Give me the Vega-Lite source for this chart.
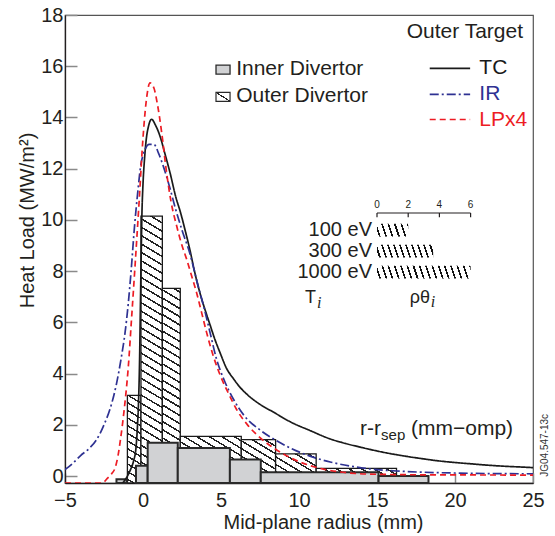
{
"$schema":"https://vega.github.io/schema/vega-lite/v6.json",
"width":468,"height":468,
"autosize":{"type":"none"},
"padding":{"left":65,"top":15,"right":22,"bottom":53},
"background":"white",
"config":{
 "view":{"stroke":"#555","strokeWidth":1.2},
 "font":"Liberation Sans",
 "text":{"font":"Liberation Sans","color":"#231f20"},
 "axis":{"labelFont":"Liberation Sans","labelFontSize":20,"labelColor":"#231f20","titleFont":"Liberation Sans","titleFontSize":20,"titleFontWeight":"normal","titleColor":"#231f20","domainColor":"#231f20","domainWidth":1.3,"tickColor":"#8a8a8a","tickWidth":1.5,"grid":false,"labelFlush":false,"labelOverlap":false}
},
"datasets":{
 "outer":[
  {"id":1,"x":-1.0,"x2":-0.13,"y":3.15},
  {"id":2,"x":-0.13,"x2":1.24,"y":10.15},
  {"id":3,"x":1.24,"x2":2.39,"y":7.33},
  {"id":4,"x":2.39,"x2":6.3,"y":1.55},
  {"id":5,"x":6.3,"x2":8.5,"y":1.42},
  {"id":6,"x":8.5,"x2":11.1,"y":0.87},
  {"id":7,"x":11.1,"x2":16.25,"y":0.3}
 ],
 "inner":[
  {"x":-1.7,"x2":-1.05,"y":-0.12},
  {"x":-0.45,"x2":0.3,"y":0.4},
  {"x":0.3,"x2":2.23,"y":1.3},
  {"x":2.23,"x2":5.57,"y":1.1},
  {"x":5.57,"x2":7.55,"y":0.65},
  {"x":7.55,"x2":15.1,"y":0.15},
  {"x":15.1,"x2":18.3,"y":0.0}
 ],
 "curves":[
  {"series":"TC","x":-1.3,"y":-0.27},{"series":"TC","x":-1.0,"y":0.0},{"series":"TC","x":-0.8,"y":0.25},{"series":"TC","x":-0.6,"y":0.6},{"series":"TC","x":-0.45,"y":1.1},{"series":"TC","x":-0.35,"y":2.0},{"series":"TC","x":-0.28,"y":3.0},{"series":"TC","x":-0.22,"y":4.5},{"series":"TC","x":-0.17,"y":6.5},{"series":"TC","x":-0.12,"y":8.5},{"series":"TC","x":-0.07,"y":10.2},{"series":"TC","x":0.0,"y":11.4},{"series":"TC","x":0.1,"y":12.4},{"series":"TC","x":0.2,"y":13.1},{"series":"TC","x":0.35,"y":13.65},{"series":"TC","x":0.55,"y":13.93},{"series":"TC","x":0.8,"y":13.7},{"series":"TC","x":1.1,"y":13.25},{"series":"TC","x":1.4,"y":12.6},{"series":"TC","x":1.75,"y":11.8},{"series":"TC","x":2.1,"y":10.9},{"series":"TC","x":2.4,"y":10.3},{"series":"TC","x":2.7,"y":9.6},{"series":"TC","x":3.0,"y":8.85},{"series":"TC","x":3.3,"y":8.0},{"series":"TC","x":3.65,"y":7.15},{"series":"TC","x":4.0,"y":6.45},{"series":"TC","x":4.3,"y":5.9},{"series":"TC","x":4.6,"y":5.35},{"series":"TC","x":4.95,"y":4.8},{"series":"TC","x":5.36,"y":4.2},{"series":"TC","x":5.8,"y":3.8},{"series":"TC","x":6.2,"y":3.48},{"series":"TC","x":6.65,"y":3.2},{"series":"TC","x":7.5,"y":2.8},{"series":"TC","x":8.35,"y":2.5},{"series":"TC","x":9.5,"y":2.1},{"series":"TC","x":10.7,"y":1.78},{"series":"TC","x":12,"y":1.45},{"series":"TC","x":13,"y":1.27},{"series":"TC","x":14,"y":1.12},{"series":"TC","x":15,"y":0.98},{"series":"TC","x":16,"y":0.86},{"series":"TC","x":17,"y":0.76},{"series":"TC","x":18,"y":0.67},{"series":"TC","x":19,"y":0.59},{"series":"TC","x":20,"y":0.53},{"series":"TC","x":21,"y":0.48},{"series":"TC","x":22,"y":0.43},{"series":"TC","x":23,"y":0.39},{"series":"TC","x":24,"y":0.36},{"series":"TC","x":25,"y":0.33},
  {"series":"IR","x":-5,"y":0.25},{"series":"IR","x":-4.5,"y":0.5},{"series":"IR","x":-4,"y":0.8},{"series":"IR","x":-3.5,"y":1.05},{"series":"IR","x":-3,"y":1.4},{"series":"IR","x":-2.5,"y":2.0},{"series":"IR","x":-2.0,"y":2.85},{"series":"IR","x":-1.7,"y":3.6},{"series":"IR","x":-1.4,"y":4.6},{"series":"IR","x":-1.15,"y":5.6},{"series":"IR","x":-0.95,"y":6.7},{"series":"IR","x":-0.75,"y":8.1},{"series":"IR","x":-0.55,"y":9.7},{"series":"IR","x":-0.35,"y":11.0},{"series":"IR","x":-0.15,"y":12.1},{"series":"IR","x":0.1,"y":12.7},{"series":"IR","x":0.4,"y":12.95},{"series":"IR","x":0.7,"y":12.95},{"series":"IR","x":1.0,"y":12.6},{"series":"IR","x":1.3,"y":12.1},{"series":"IR","x":1.7,"y":11.3},{"series":"IR","x":2.1,"y":10.4},{"series":"IR","x":2.5,"y":9.6},{"series":"IR","x":3.0,"y":8.7},{"series":"IR","x":3.5,"y":7.5},{"series":"IR","x":3.9,"y":6.6},{"series":"IR","x":4.3,"y":5.6},{"series":"IR","x":4.7,"y":4.6},{"series":"IR","x":5.2,"y":3.75},{"series":"IR","x":5.8,"y":3.0},{"series":"IR","x":6.5,"y":2.35},{"series":"IR","x":7.5,"y":1.8},{"series":"IR","x":8.5,"y":1.4},{"series":"IR","x":9.5,"y":1.08},{"series":"IR","x":10.7,"y":0.78},{"series":"IR","x":12,"y":0.55},{"series":"IR","x":13.6,"y":0.36},{"series":"IR","x":15,"y":0.25},{"series":"IR","x":16.5,"y":0.19},{"series":"IR","x":18,"y":0.15},{"series":"IR","x":20,"y":0.12},{"series":"IR","x":22,"y":0.1},{"series":"IR","x":25,"y":0.09},
  {"series":"LPx4","x":-5,"y":-0.27},{"series":"LPx4","x":-2.6,"y":-0.27},{"series":"LPx4","x":-2.3,"y":-0.1},{"series":"LPx4","x":-2.0,"y":0.1},{"series":"LPx4","x":-1.8,"y":0.3},{"series":"LPx4","x":-1.6,"y":0.8},{"series":"LPx4","x":-1.45,"y":1.4},{"series":"LPx4","x":-1.3,"y":2.1},{"series":"LPx4","x":-1.1,"y":3.2},{"series":"LPx4","x":-0.95,"y":4.2},{"series":"LPx4","x":-0.75,"y":6.0},{"series":"LPx4","x":-0.5,"y":8.3},{"series":"LPx4","x":-0.25,"y":10.7},{"series":"LPx4","x":0.0,"y":13.2},{"series":"LPx4","x":0.2,"y":14.6},{"series":"LPx4","x":0.45,"y":15.35},{"series":"LPx4","x":0.7,"y":15.15},{"series":"LPx4","x":0.9,"y":14.6},{"series":"LPx4","x":1.2,"y":13.4},{"series":"LPx4","x":1.5,"y":11.9},{"series":"LPx4","x":1.8,"y":10.7},{"series":"LPx4","x":2.16,"y":9.76},{"series":"LPx4","x":2.5,"y":9.0},{"series":"LPx4","x":2.8,"y":8.46},{"series":"LPx4","x":3.1,"y":7.85},{"series":"LPx4","x":3.44,"y":7.15},{"series":"LPx4","x":3.75,"y":6.4},{"series":"LPx4","x":4.08,"y":5.6},{"series":"LPx4","x":4.5,"y":4.7},{"series":"LPx4","x":4.94,"y":3.95},{"series":"LPx4","x":5.5,"y":3.2},{"series":"LPx4","x":6.0,"y":2.6},{"series":"LPx4","x":6.7,"y":2.0},{"series":"LPx4","x":7.5,"y":1.5},{"series":"LPx4","x":8.5,"y":1.05},{"series":"LPx4","x":9.5,"y":0.7},{"series":"LPx4","x":10.5,"y":0.45},{"series":"LPx4","x":11.5,"y":0.28},{"series":"LPx4","x":12.5,"y":0.17},{"series":"LPx4","x":13.7,"y":0.1},{"series":"LPx4","x":15,"y":0.07},{"series":"LPx4","x":18,"y":0.05},{"series":"LPx4","x":25,"y":0.04}
 ],
 "leg":[
  {"series":"TC","x":18.38,"y":15.92},{"series":"TC","x":20.97,"y":15.92},
  {"series":"IR","x":18.38,"y":14.9},{"series":"IR","x":20.97,"y":14.9},
  {"series":"LPx4","x":18.38,"y":13.92},{"series":"LPx4","x":20.97,"y":13.92}
 ],
 "sym":[
  {"id":"inner","x":4.68,"x2":5.58,"y":16.04,"y2":15.69},
  {"id":"outer","x":4.68,"x2":5.58,"y":14.98,"y2":14.63}
 ],
 "inset":[{"x":15,"x2":21,"y":10.27}],
 "insetTicks":[{"x":15,"y":10.27,"y2":10.1},{"x":17,"y":10.27,"y2":10.1},{"x":19,"y":10.27,"y2":10.1},{"x":21,"y":10.27,"y2":10.1}],
 "rows":[
  {"id":100,"x":15,"x2":17,"y":9.85,"y2":9.35},
  {"id":300,"x":15,"x2":18.6,"y":9.03,"y2":8.53},
  {"id":1000,"x":15,"x2":21,"y":8.21,"y2":7.71}
 ],
 "txt":[
  {"g":"L","label":"Inner Divertor","x":5.97,"y":15.88},
  {"g":"L","label":"Outer Divertor","x":5.97,"y":14.82},
  {"g":"L","label":"r-r","x":13.91,"y":1.85},
  {"g":"L","label":"(mm−omp)","x":17.18,"y":1.85},
  {"g":"Lc","label":"TC","series":"TC","x":21.56,"y":15.92},
  {"g":"Lc","label":"IR","series":"IR","x":21.56,"y":14.9},
  {"g":"Lc","label":"LPx4","series":"LPx4","x":21.56,"y":13.92},
  {"g":"R","label":"Outer Target","x":24.36,"y":17.33},
  {"g":"R20","label":"100 eV","x":14.68,"y":9.6},
  {"g":"R20","label":"300 eV","x":14.68,"y":8.78},
  {"g":"R20","label":"1000 eV","x":14.68,"y":7.96},
  {"g":"S","label":"0","x":15,"y":10.57},
  {"g":"S","label":"2","x":17,"y":10.57},
  {"g":"S","label":"4","x":19,"y":10.57},
  {"g":"S","label":"6","x":21,"y":10.57},
  {"g":"M","label":"T","x":11.09,"y":6.94},
  {"g":"M","label":"ρθ","x":18.4,"y":6.94},
  {"g":"I","label":"i","x":11.15,"y":6.75},
  {"g":"I","label":"i","x":18.45,"y":6.8},
  {"g":"sub","label":"sep","x":15.26,"y":1.6},
  {"g":"V","label":"JG04.547-13c","x":25.75,"y":1.2}
 ]
},
"encoding":{
 "x":{"field":"x","type":"quantitative","scale":{"domain":[-5,25],"nice":false,"zero":false},
  "axis":{"values":[-5,0,5,10,15,20,25],"tickSize":-10,"labelPadding":17,"title":"Mid-plane radius (mm)","titleX":258,"titleY":39,"titleBaseline":"middle"}},
 "y":{"field":"y","type":"quantitative","scale":{"domain":[-0.27,18],"nice":false,"zero":false},
  "axis":{"values":[0,2,4,6,8,10,12,14,16,18],"tickSize":-12,"labelPadding":14,"title":"Heat Load (MW/m²)","titleX":-38,"titleY":205,"titleAngle":270,"titleAlign":"center","titleBaseline":"middle"}}
},
"layer":[
 {"data":{"name":"outer"},"transform":[{"filter":"datum.id == 1"}],
  "mark":{"type":"rect","stroke":"#1a1a1a","strokeWidth":1.3,"fill":{"gradient":"linear","x1":0,"y1":1,"x2":0.1,"y2":-0.083,"stops":[
   {"offset":0,"color":"#fff"},
   {"offset":0.031,"color":"#fff"},{"offset":0.031,"color":"#222"},{"offset":0.049,"color":"#222"},{"offset":0.049,"color":"#fff"},
   {"offset":0.111,"color":"#fff"},{"offset":0.111,"color":"#222"},{"offset":0.129,"color":"#222"},{"offset":0.129,"color":"#fff"},
   {"offset":0.191,"color":"#fff"},{"offset":0.191,"color":"#222"},{"offset":0.209,"color":"#222"},{"offset":0.209,"color":"#fff"},
   {"offset":0.271,"color":"#fff"},{"offset":0.271,"color":"#222"},{"offset":0.289,"color":"#222"},{"offset":0.289,"color":"#fff"},
   {"offset":0.351,"color":"#fff"},{"offset":0.351,"color":"#222"},{"offset":0.369,"color":"#222"},{"offset":0.369,"color":"#fff"},
   {"offset":0.431,"color":"#fff"},{"offset":0.431,"color":"#222"},{"offset":0.449,"color":"#222"},{"offset":0.449,"color":"#fff"},
   {"offset":0.511,"color":"#fff"},{"offset":0.511,"color":"#222"},{"offset":0.529,"color":"#222"},{"offset":0.529,"color":"#fff"},
   {"offset":0.591,"color":"#fff"},{"offset":0.591,"color":"#222"},{"offset":0.609,"color":"#222"},{"offset":0.609,"color":"#fff"},
   {"offset":0.671,"color":"#fff"},{"offset":0.671,"color":"#222"},{"offset":0.689,"color":"#222"},{"offset":0.689,"color":"#fff"},
   {"offset":0.751,"color":"#fff"},{"offset":0.751,"color":"#222"},{"offset":0.769,"color":"#222"},{"offset":0.769,"color":"#fff"},
   {"offset":0.831,"color":"#fff"},{"offset":0.831,"color":"#222"},{"offset":0.849,"color":"#222"},{"offset":0.849,"color":"#fff"},
   {"offset":0.911,"color":"#fff"},{"offset":0.911,"color":"#222"},{"offset":0.929,"color":"#222"},{"offset":0.929,"color":"#fff"},
   {"offset":1,"color":"#fff"}]}},
  "encoding":{"x2":{"field":"x2"},"y2":{"datum":-0.27}}},
 {"data":{"name":"outer"},"transform":[{"filter":"datum.id == 2"}],
  "mark":{"type":"rect","stroke":"#1a1a1a","strokeWidth":1.3,"fill":{"gradient":"linear","x1":0,"y1":1,"x2":0.0502,"y2":-0.0456,"stops":[
   {"offset":0,"color":"#fff"},
   {"offset":0.0118,"color":"#fff"},{"offset":0.0118,"color":"#222"},{"offset":0.0182,"color":"#222"},{"offset":0.0182,"color":"#fff"},
   {"offset":0.0418,"color":"#fff"},{"offset":0.0418,"color":"#222"},{"offset":0.0482,"color":"#222"},{"offset":0.0482,"color":"#fff"},
   {"offset":0.0718,"color":"#fff"},{"offset":0.0718,"color":"#222"},{"offset":0.0782,"color":"#222"},{"offset":0.0782,"color":"#fff"},
   {"offset":0.1018,"color":"#fff"},{"offset":0.1018,"color":"#222"},{"offset":0.1082,"color":"#222"},{"offset":0.1082,"color":"#fff"},
   {"offset":0.1318,"color":"#fff"},{"offset":0.1318,"color":"#222"},{"offset":0.1382,"color":"#222"},{"offset":0.1382,"color":"#fff"},
   {"offset":0.1618,"color":"#fff"},{"offset":0.1618,"color":"#222"},{"offset":0.1682,"color":"#222"},{"offset":0.1682,"color":"#fff"},
   {"offset":0.1918,"color":"#fff"},{"offset":0.1918,"color":"#222"},{"offset":0.1982,"color":"#222"},{"offset":0.1982,"color":"#fff"},
   {"offset":0.2218,"color":"#fff"},{"offset":0.2218,"color":"#222"},{"offset":0.2282,"color":"#222"},{"offset":0.2282,"color":"#fff"},
   {"offset":0.2518,"color":"#fff"},{"offset":0.2518,"color":"#222"},{"offset":0.2582,"color":"#222"},{"offset":0.2582,"color":"#fff"},
   {"offset":0.2818,"color":"#fff"},{"offset":0.2818,"color":"#222"},{"offset":0.2882,"color":"#222"},{"offset":0.2882,"color":"#fff"},
   {"offset":0.3118,"color":"#fff"},{"offset":0.3118,"color":"#222"},{"offset":0.3182,"color":"#222"},{"offset":0.3182,"color":"#fff"},
   {"offset":0.3418,"color":"#fff"},{"offset":0.3418,"color":"#222"},{"offset":0.3482,"color":"#222"},{"offset":0.3482,"color":"#fff"},
   {"offset":0.3718,"color":"#fff"},{"offset":0.3718,"color":"#222"},{"offset":0.3782,"color":"#222"},{"offset":0.3782,"color":"#fff"},
   {"offset":0.4018,"color":"#fff"},{"offset":0.4018,"color":"#222"},{"offset":0.4082,"color":"#222"},{"offset":0.4082,"color":"#fff"},
   {"offset":0.4318,"color":"#fff"},{"offset":0.4318,"color":"#222"},{"offset":0.4382,"color":"#222"},{"offset":0.4382,"color":"#fff"},
   {"offset":0.4618,"color":"#fff"},{"offset":0.4618,"color":"#222"},{"offset":0.4682,"color":"#222"},{"offset":0.4682,"color":"#fff"},
   {"offset":0.4918,"color":"#fff"},{"offset":0.4918,"color":"#222"},{"offset":0.4982,"color":"#222"},{"offset":0.4982,"color":"#fff"},
   {"offset":0.5218,"color":"#fff"},{"offset":0.5218,"color":"#222"},{"offset":0.5282,"color":"#222"},{"offset":0.5282,"color":"#fff"},
   {"offset":0.5518,"color":"#fff"},{"offset":0.5518,"color":"#222"},{"offset":0.5582,"color":"#222"},{"offset":0.5582,"color":"#fff"},
   {"offset":0.5818,"color":"#fff"},{"offset":0.5818,"color":"#222"},{"offset":0.5882,"color":"#222"},{"offset":0.5882,"color":"#fff"},
   {"offset":0.6118,"color":"#fff"},{"offset":0.6118,"color":"#222"},{"offset":0.6182,"color":"#222"},{"offset":0.6182,"color":"#fff"},
   {"offset":0.6418,"color":"#fff"},{"offset":0.6418,"color":"#222"},{"offset":0.6482,"color":"#222"},{"offset":0.6482,"color":"#fff"},
   {"offset":0.6718,"color":"#fff"},{"offset":0.6718,"color":"#222"},{"offset":0.6782,"color":"#222"},{"offset":0.6782,"color":"#fff"},
   {"offset":0.7018,"color":"#fff"},{"offset":0.7018,"color":"#222"},{"offset":0.7082,"color":"#222"},{"offset":0.7082,"color":"#fff"},
   {"offset":0.7318,"color":"#fff"},{"offset":0.7318,"color":"#222"},{"offset":0.7382,"color":"#222"},{"offset":0.7382,"color":"#fff"},
   {"offset":0.7618,"color":"#fff"},{"offset":0.7618,"color":"#222"},{"offset":0.7682,"color":"#222"},{"offset":0.7682,"color":"#fff"},
   {"offset":0.7918,"color":"#fff"},{"offset":0.7918,"color":"#222"},{"offset":0.7982,"color":"#222"},{"offset":0.7982,"color":"#fff"},
   {"offset":0.8218,"color":"#fff"},{"offset":0.8218,"color":"#222"},{"offset":0.8282,"color":"#222"},{"offset":0.8282,"color":"#fff"},
   {"offset":0.8518,"color":"#fff"},{"offset":0.8518,"color":"#222"},{"offset":0.8582,"color":"#222"},{"offset":0.8582,"color":"#fff"},
   {"offset":0.8818,"color":"#fff"},{"offset":0.8818,"color":"#222"},{"offset":0.8882,"color":"#222"},{"offset":0.8882,"color":"#fff"},
   {"offset":0.9118,"color":"#fff"},{"offset":0.9118,"color":"#222"},{"offset":0.9182,"color":"#222"},{"offset":0.9182,"color":"#fff"},
   {"offset":0.9418,"color":"#fff"},{"offset":0.9418,"color":"#222"},{"offset":0.9482,"color":"#222"},{"offset":0.9482,"color":"#fff"},
   {"offset":0.9718,"color":"#fff"},{"offset":0.9718,"color":"#222"},{"offset":0.9782,"color":"#222"},{"offset":0.9782,"color":"#fff"},
   {"offset":1,"color":"#fff"}]}},
  "encoding":{"x2":{"field":"x2"},"y2":{"datum":-0.27}}},
 {"data":{"name":"outer"},"transform":[{"filter":"datum.id == 3"}],
  "mark":{"type":"rect","stroke":"#1a1a1a","strokeWidth":1.3,"fill":{"gradient":"linear","x1":0,"y1":1,"x2":0.0583,"y2":-0.0522,"stops":[
   {"offset":0,"color":"#fff"},
   {"offset":0.0155,"color":"#fff"},{"offset":0.0155,"color":"#222"},{"offset":0.0245,"color":"#222"},{"offset":0.0245,"color":"#fff"},
   {"offset":0.0555,"color":"#fff"},{"offset":0.0555,"color":"#222"},{"offset":0.0645,"color":"#222"},{"offset":0.0645,"color":"#fff"},
   {"offset":0.0955,"color":"#fff"},{"offset":0.0955,"color":"#222"},{"offset":0.1045,"color":"#222"},{"offset":0.1045,"color":"#fff"},
   {"offset":0.1355,"color":"#fff"},{"offset":0.1355,"color":"#222"},{"offset":0.1445,"color":"#222"},{"offset":0.1445,"color":"#fff"},
   {"offset":0.1755,"color":"#fff"},{"offset":0.1755,"color":"#222"},{"offset":0.1845,"color":"#222"},{"offset":0.1845,"color":"#fff"},
   {"offset":0.2155,"color":"#fff"},{"offset":0.2155,"color":"#222"},{"offset":0.2245,"color":"#222"},{"offset":0.2245,"color":"#fff"},
   {"offset":0.2555,"color":"#fff"},{"offset":0.2555,"color":"#222"},{"offset":0.2645,"color":"#222"},{"offset":0.2645,"color":"#fff"},
   {"offset":0.2955,"color":"#fff"},{"offset":0.2955,"color":"#222"},{"offset":0.3045,"color":"#222"},{"offset":0.3045,"color":"#fff"},
   {"offset":0.3355,"color":"#fff"},{"offset":0.3355,"color":"#222"},{"offset":0.3445,"color":"#222"},{"offset":0.3445,"color":"#fff"},
   {"offset":0.3755,"color":"#fff"},{"offset":0.3755,"color":"#222"},{"offset":0.3845,"color":"#222"},{"offset":0.3845,"color":"#fff"},
   {"offset":0.4155,"color":"#fff"},{"offset":0.4155,"color":"#222"},{"offset":0.4245,"color":"#222"},{"offset":0.4245,"color":"#fff"},
   {"offset":0.4555,"color":"#fff"},{"offset":0.4555,"color":"#222"},{"offset":0.4645,"color":"#222"},{"offset":0.4645,"color":"#fff"},
   {"offset":0.4955,"color":"#fff"},{"offset":0.4955,"color":"#222"},{"offset":0.5045,"color":"#222"},{"offset":0.5045,"color":"#fff"},
   {"offset":0.5355,"color":"#fff"},{"offset":0.5355,"color":"#222"},{"offset":0.5445,"color":"#222"},{"offset":0.5445,"color":"#fff"},
   {"offset":0.5755,"color":"#fff"},{"offset":0.5755,"color":"#222"},{"offset":0.5845,"color":"#222"},{"offset":0.5845,"color":"#fff"},
   {"offset":0.6155,"color":"#fff"},{"offset":0.6155,"color":"#222"},{"offset":0.6245,"color":"#222"},{"offset":0.6245,"color":"#fff"},
   {"offset":0.6555,"color":"#fff"},{"offset":0.6555,"color":"#222"},{"offset":0.6645,"color":"#222"},{"offset":0.6645,"color":"#fff"},
   {"offset":0.6955,"color":"#fff"},{"offset":0.6955,"color":"#222"},{"offset":0.7045,"color":"#222"},{"offset":0.7045,"color":"#fff"},
   {"offset":0.7355,"color":"#fff"},{"offset":0.7355,"color":"#222"},{"offset":0.7445,"color":"#222"},{"offset":0.7445,"color":"#fff"},
   {"offset":0.7755,"color":"#fff"},{"offset":0.7755,"color":"#222"},{"offset":0.7845,"color":"#222"},{"offset":0.7845,"color":"#fff"},
   {"offset":0.8155,"color":"#fff"},{"offset":0.8155,"color":"#222"},{"offset":0.8245,"color":"#222"},{"offset":0.8245,"color":"#fff"},
   {"offset":0.8555,"color":"#fff"},{"offset":0.8555,"color":"#222"},{"offset":0.8645,"color":"#222"},{"offset":0.8645,"color":"#fff"},
   {"offset":0.8955,"color":"#fff"},{"offset":0.8955,"color":"#222"},{"offset":0.9045,"color":"#222"},{"offset":0.9045,"color":"#fff"},
   {"offset":0.9355,"color":"#fff"},{"offset":0.9355,"color":"#222"},{"offset":0.9445,"color":"#222"},{"offset":0.9445,"color":"#fff"},
   {"offset":0.9755,"color":"#fff"},{"offset":0.9755,"color":"#222"},{"offset":0.9845,"color":"#222"},{"offset":0.9845,"color":"#fff"},
   {"offset":1,"color":"#fff"}]}},
  "encoding":{"x2":{"field":"x2"},"y2":{"datum":-0.27}}},
 {"data":{"name":"outer"},"transform":[{"filter":"datum.id == 4"}],
  "mark":{"type":"rect","stroke":"#1a1a1a","strokeWidth":1.3,"fill":{"gradient":"linear","x1":0,"y1":1,"x2":0.869,"y2":-0.104,"stops":[
   {"offset":0,"color":"#fff"},
   {"offset":0.035,"color":"#fff"},{"offset":0.035,"color":"#222"},{"offset":0.055,"color":"#222"},{"offset":0.055,"color":"#fff"},
   {"offset":0.125,"color":"#fff"},{"offset":0.125,"color":"#222"},{"offset":0.145,"color":"#222"},{"offset":0.145,"color":"#fff"},
   {"offset":0.215,"color":"#fff"},{"offset":0.215,"color":"#222"},{"offset":0.235,"color":"#222"},{"offset":0.235,"color":"#fff"},
   {"offset":0.305,"color":"#fff"},{"offset":0.305,"color":"#222"},{"offset":0.325,"color":"#222"},{"offset":0.325,"color":"#fff"},
   {"offset":0.395,"color":"#fff"},{"offset":0.395,"color":"#222"},{"offset":0.415,"color":"#222"},{"offset":0.415,"color":"#fff"},
   {"offset":0.485,"color":"#fff"},{"offset":0.485,"color":"#222"},{"offset":0.505,"color":"#222"},{"offset":0.505,"color":"#fff"},
   {"offset":0.575,"color":"#fff"},{"offset":0.575,"color":"#222"},{"offset":0.595,"color":"#222"},{"offset":0.595,"color":"#fff"},
   {"offset":0.665,"color":"#fff"},{"offset":0.665,"color":"#222"},{"offset":0.685,"color":"#222"},{"offset":0.685,"color":"#fff"},
   {"offset":0.755,"color":"#fff"},{"offset":0.755,"color":"#222"},{"offset":0.775,"color":"#222"},{"offset":0.775,"color":"#fff"},
   {"offset":0.845,"color":"#fff"},{"offset":0.845,"color":"#222"},{"offset":0.865,"color":"#222"},{"offset":0.865,"color":"#fff"},
   {"offset":0.935,"color":"#fff"},{"offset":0.935,"color":"#222"},{"offset":0.955,"color":"#222"},{"offset":0.955,"color":"#fff"},
   {"offset":1,"color":"#fff"}]}},
  "encoding":{"x2":{"field":"x2"},"y2":{"datum":-0.27}}},
 {"data":{"name":"outer"},"transform":[{"filter":"datum.id == 5"}],
  "mark":{"type":"rect","stroke":"#1a1a1a","strokeWidth":1.3,"fill":{"gradient":"linear","x1":0,"y1":1,"x2":0.5736,"y2":-0.2033,"stops":[
   {"offset":0,"color":"#fff"},
   {"offset":0.046,"color":"#fff"},{"offset":0.046,"color":"#222"},{"offset":0.074,"color":"#222"},{"offset":0.074,"color":"#fff"},
   {"offset":0.166,"color":"#fff"},{"offset":0.166,"color":"#222"},{"offset":0.194,"color":"#222"},{"offset":0.194,"color":"#fff"},
   {"offset":0.286,"color":"#fff"},{"offset":0.286,"color":"#222"},{"offset":0.314,"color":"#222"},{"offset":0.314,"color":"#fff"},
   {"offset":0.406,"color":"#fff"},{"offset":0.406,"color":"#222"},{"offset":0.434,"color":"#222"},{"offset":0.434,"color":"#fff"},
   {"offset":0.526,"color":"#fff"},{"offset":0.526,"color":"#222"},{"offset":0.554,"color":"#222"},{"offset":0.554,"color":"#fff"},
   {"offset":0.646,"color":"#fff"},{"offset":0.646,"color":"#222"},{"offset":0.674,"color":"#222"},{"offset":0.674,"color":"#fff"},
   {"offset":0.766,"color":"#fff"},{"offset":0.766,"color":"#222"},{"offset":0.794,"color":"#222"},{"offset":0.794,"color":"#fff"},
   {"offset":0.886,"color":"#fff"},{"offset":0.886,"color":"#222"},{"offset":0.914,"color":"#222"},{"offset":0.914,"color":"#fff"},
   {"offset":1,"color":"#fff"}]}},
  "encoding":{"x2":{"field":"x2"},"y2":{"datum":-0.27}}},
 {"data":{"name":"outer"},"transform":[{"filter":"datum.id == 6"}],
  "mark":{"type":"rect","stroke":"#1a1a1a","strokeWidth":1.3,"fill":{"gradient":"linear","x1":0,"y1":1,"x2":0.903,"y2":-0.0813,"stops":[
   {"offset":0,"color":"#fff"},
   {"offset":0.054,"color":"#fff"},{"offset":0.054,"color":"#222"},{"offset":0.086,"color":"#222"},{"offset":0.086,"color":"#fff"},
   {"offset":0.194,"color":"#fff"},{"offset":0.194,"color":"#222"},{"offset":0.226,"color":"#222"},{"offset":0.226,"color":"#fff"},
   {"offset":0.334,"color":"#fff"},{"offset":0.334,"color":"#222"},{"offset":0.366,"color":"#222"},{"offset":0.366,"color":"#fff"},
   {"offset":0.474,"color":"#fff"},{"offset":0.474,"color":"#222"},{"offset":0.506,"color":"#222"},{"offset":0.506,"color":"#fff"},
   {"offset":0.614,"color":"#fff"},{"offset":0.614,"color":"#222"},{"offset":0.646,"color":"#222"},{"offset":0.646,"color":"#fff"},
   {"offset":0.754,"color":"#fff"},{"offset":0.754,"color":"#222"},{"offset":0.786,"color":"#222"},{"offset":0.786,"color":"#fff"},
   {"offset":0.894,"color":"#fff"},{"offset":0.894,"color":"#222"},{"offset":0.926,"color":"#222"},{"offset":0.926,"color":"#fff"},
   {"offset":1,"color":"#fff"}]}},
  "encoding":{"x2":{"field":"x2"},"y2":{"datum":-0.27}}},
 {"data":{"name":"outer"},"transform":[{"filter":"datum.id == 7"}],
  "mark":{"type":"rect","stroke":"#1a1a1a","strokeWidth":1.3,"fill":{"gradient":"linear","x1":0,"y1":1,"x2":1.193,"y2":0.639,"stops":[
   {"offset":0,"color":"#fff"},
   {"offset":0.046,"color":"#fff"},{"offset":0.046,"color":"#222"},{"offset":0.074,"color":"#222"},{"offset":0.074,"color":"#fff"},
   {"offset":0.166,"color":"#fff"},{"offset":0.166,"color":"#222"},{"offset":0.194,"color":"#222"},{"offset":0.194,"color":"#fff"},
   {"offset":0.286,"color":"#fff"},{"offset":0.286,"color":"#222"},{"offset":0.314,"color":"#222"},{"offset":0.314,"color":"#fff"},
   {"offset":0.406,"color":"#fff"},{"offset":0.406,"color":"#222"},{"offset":0.434,"color":"#222"},{"offset":0.434,"color":"#fff"},
   {"offset":0.526,"color":"#fff"},{"offset":0.526,"color":"#222"},{"offset":0.554,"color":"#222"},{"offset":0.554,"color":"#fff"},
   {"offset":0.646,"color":"#fff"},{"offset":0.646,"color":"#222"},{"offset":0.674,"color":"#222"},{"offset":0.674,"color":"#fff"},
   {"offset":0.766,"color":"#fff"},{"offset":0.766,"color":"#222"},{"offset":0.794,"color":"#222"},{"offset":0.794,"color":"#fff"},
   {"offset":0.886,"color":"#fff"},{"offset":0.886,"color":"#222"},{"offset":0.914,"color":"#222"},{"offset":0.914,"color":"#fff"},
   {"offset":1,"color":"#fff"}]}},
  "encoding":{"x2":{"field":"x2"},"y2":{"datum":-0.27}}},
 {"data":{"name":"inner"},
  "mark":{"type":"rect","fill":"#d1d2d4","stroke":"#2a2a2a","strokeWidth":2},
  "encoding":{"x2":{"field":"x2"},"y2":{"datum":-0.27}}},
 {"data":{"name":"curves"},
  "mark":{"type":"line","strokeWidth":1.7,"clip":true,"interpolate":"monotone"},
  "encoding":{
   "color":{"field":"series","type":"nominal","scale":{"domain":["TC","IR","LPx4"],"range":["#1a1a1a","#2e3192","#ed1c24"]},"legend":null},
   "strokeDash":{"field":"series","type":"nominal","scale":{"domain":["TC","IR","LPx4"],"range":[[1,0],[9,3,2,3],[6,4]]},"legend":null}}},
 {"data":{"name":"leg"},
  "mark":{"type":"line","strokeWidth":1.7},
  "encoding":{
   "color":{"field":"series","type":"nominal","scale":{"domain":["TC","IR","LPx4"],"range":["#1a1a1a","#2e3192","#ed1c24"]},"legend":null},
   "strokeDash":{"field":"series","type":"nominal","scale":{"domain":["TC","IR","LPx4"],"range":[[1,0],[9,3,2,3],[6,4]]},"legend":null}}},
 {"data":{"name":"sym"},"transform":[{"filter":"datum.id == 'inner'"}],
  "mark":{"type":"rect","fill":"#d1d2d4","stroke":"#2a2a2a","strokeWidth":1.3},
  "encoding":{"x2":{"field":"x2"},"y2":{"field":"y2"}}},
 {"data":{"name":"sym"},"transform":[{"filter":"datum.id == 'outer'"}],
  "mark":{"type":"rect","stroke":"#2a2a2a","strokeWidth":1.2,"fill":{"gradient":"linear","x1":0,"y1":1,"x2":1,"y2":0,"stops":[
   {"offset":0,"color":"#fff"},{"offset":0.46,"color":"#fff"},{"offset":0.46,"color":"#222"},{"offset":0.54,"color":"#222"},{"offset":0.54,"color":"#fff"},{"offset":1,"color":"#fff"}]}},
  "encoding":{"x2":{"field":"x2"},"y2":{"field":"y2"}}},
 {"data":{"name":"inset"},
  "mark":{"type":"rule","color":"#231f20","strokeWidth":1.2},
  "encoding":{"x2":{"field":"x2"}}},
 {"data":{"name":"insetTicks"},
  "mark":{"type":"rule","color":"#231f20","strokeWidth":1.2},
  "encoding":{"y2":{"field":"y2"}}},
 {"data":{"name":"rows"},"transform":[{"filter":"datum.id == 100"}],
  "mark":{"type":"rect","fill":{"gradient":"linear","x1":0,"y1":1,"x2":1.117,"y2":0.8472,"stops":[
   {"offset":0,"color":"#fff"},
   {"offset":0.056,"color":"#fff"},{"offset":0.056,"color":"#111"},{"offset":0.104,"color":"#111"},{"offset":0.104,"color":"#fff"},
   {"offset":0.236,"color":"#fff"},{"offset":0.236,"color":"#111"},{"offset":0.284,"color":"#111"},{"offset":0.284,"color":"#fff"},
   {"offset":0.416,"color":"#fff"},{"offset":0.416,"color":"#111"},{"offset":0.464,"color":"#111"},{"offset":0.464,"color":"#fff"},
   {"offset":0.596,"color":"#fff"},{"offset":0.596,"color":"#111"},{"offset":0.644,"color":"#111"},{"offset":0.644,"color":"#fff"},
   {"offset":0.776,"color":"#fff"},{"offset":0.776,"color":"#111"},{"offset":0.824,"color":"#111"},{"offset":0.824,"color":"#fff"},
   {"offset":0.956,"color":"#fff"},{"offset":0.956,"color":"#111"},{"offset":0.999,"color":"#111"},{"offset":0.999,"color":"#fff"},
   {"offset":1,"color":"#fff"}]}},
  "encoding":{"x2":{"field":"x2"},"y2":{"field":"y2"}}},
 {"data":{"name":"rows"},"transform":[{"filter":"datum.id == 300"}],
  "mark":{"type":"rect","fill":{"gradient":"linear","x1":0,"y1":1,"x2":1.069,"y2":0.9188,"stops":[
   {"offset":0,"color":"#fff"},
   {"offset":0.036,"color":"#fff"},{"offset":0.036,"color":"#111"},{"offset":0.064,"color":"#111"},{"offset":0.064,"color":"#fff"},
   {"offset":0.136,"color":"#fff"},{"offset":0.136,"color":"#111"},{"offset":0.164,"color":"#111"},{"offset":0.164,"color":"#fff"},
   {"offset":0.236,"color":"#fff"},{"offset":0.236,"color":"#111"},{"offset":0.264,"color":"#111"},{"offset":0.264,"color":"#fff"},
   {"offset":0.336,"color":"#fff"},{"offset":0.336,"color":"#111"},{"offset":0.364,"color":"#111"},{"offset":0.364,"color":"#fff"},
   {"offset":0.436,"color":"#fff"},{"offset":0.436,"color":"#111"},{"offset":0.464,"color":"#111"},{"offset":0.464,"color":"#fff"},
   {"offset":0.536,"color":"#fff"},{"offset":0.536,"color":"#111"},{"offset":0.564,"color":"#111"},{"offset":0.564,"color":"#fff"},
   {"offset":0.636,"color":"#fff"},{"offset":0.636,"color":"#111"},{"offset":0.664,"color":"#111"},{"offset":0.664,"color":"#fff"},
   {"offset":0.736,"color":"#fff"},{"offset":0.736,"color":"#111"},{"offset":0.764,"color":"#111"},{"offset":0.764,"color":"#fff"},
   {"offset":0.836,"color":"#fff"},{"offset":0.836,"color":"#111"},{"offset":0.864,"color":"#111"},{"offset":0.864,"color":"#fff"},
   {"offset":0.936,"color":"#fff"},{"offset":0.936,"color":"#111"},{"offset":0.964,"color":"#111"},{"offset":0.964,"color":"#fff"},
   {"offset":1,"color":"#fff"}]}},
  "encoding":{"x2":{"field":"x2"},"y2":{"field":"y2"}}},
 {"data":{"name":"rows"},"transform":[{"filter":"datum.id == 1000"}],
  "mark":{"type":"rect","fill":{"gradient":"linear","x1":0,"y1":1,"x2":1.043,"y2":0.9524,"stops":[
   {"offset":0,"color":"#fff"},
   {"offset":0.0234,"color":"#fff"},{"offset":0.0234,"color":"#111"},{"offset":0.0406,"color":"#111"},{"offset":0.0406,"color":"#fff"},
   {"offset":0.0874,"color":"#fff"},{"offset":0.0874,"color":"#111"},{"offset":0.1046,"color":"#111"},{"offset":0.1046,"color":"#fff"},
   {"offset":0.1514,"color":"#fff"},{"offset":0.1514,"color":"#111"},{"offset":0.1686,"color":"#111"},{"offset":0.1686,"color":"#fff"},
   {"offset":0.2154,"color":"#fff"},{"offset":0.2154,"color":"#111"},{"offset":0.2326,"color":"#111"},{"offset":0.2326,"color":"#fff"},
   {"offset":0.2794,"color":"#fff"},{"offset":0.2794,"color":"#111"},{"offset":0.2966,"color":"#111"},{"offset":0.2966,"color":"#fff"},
   {"offset":0.3434,"color":"#fff"},{"offset":0.3434,"color":"#111"},{"offset":0.3606,"color":"#111"},{"offset":0.3606,"color":"#fff"},
   {"offset":0.4074,"color":"#fff"},{"offset":0.4074,"color":"#111"},{"offset":0.4246,"color":"#111"},{"offset":0.4246,"color":"#fff"},
   {"offset":0.4714,"color":"#fff"},{"offset":0.4714,"color":"#111"},{"offset":0.4886,"color":"#111"},{"offset":0.4886,"color":"#fff"},
   {"offset":0.5354,"color":"#fff"},{"offset":0.5354,"color":"#111"},{"offset":0.5526,"color":"#111"},{"offset":0.5526,"color":"#fff"},
   {"offset":0.5994,"color":"#fff"},{"offset":0.5994,"color":"#111"},{"offset":0.6166,"color":"#111"},{"offset":0.6166,"color":"#fff"},
   {"offset":0.6634,"color":"#fff"},{"offset":0.6634,"color":"#111"},{"offset":0.6806,"color":"#111"},{"offset":0.6806,"color":"#fff"},
   {"offset":0.7274,"color":"#fff"},{"offset":0.7274,"color":"#111"},{"offset":0.7446,"color":"#111"},{"offset":0.7446,"color":"#fff"},
   {"offset":0.7914,"color":"#fff"},{"offset":0.7914,"color":"#111"},{"offset":0.8086,"color":"#111"},{"offset":0.8086,"color":"#fff"},
   {"offset":0.8554,"color":"#fff"},{"offset":0.8554,"color":"#111"},{"offset":0.8726,"color":"#111"},{"offset":0.8726,"color":"#fff"},
   {"offset":0.9194,"color":"#fff"},{"offset":0.9194,"color":"#111"},{"offset":0.9366,"color":"#111"},{"offset":0.9366,"color":"#fff"},
   {"offset":0.9834,"color":"#fff"},{"offset":0.9834,"color":"#111"},{"offset":0.9995,"color":"#111"},{"offset":0.9995,"color":"#fff"},
   {"offset":1,"color":"#fff"}]}},
  "encoding":{"x2":{"field":"x2"},"y2":{"field":"y2"}}},
 {"data":{"name":"txt"},"transform":[{"filter":"datum.g == 'L'"}],
  "mark":{"type":"text","align":"left","baseline":"middle","fontSize":21,"color":"#231f20"},
  "encoding":{"text":{"field":"label"}}},
 {"data":{"name":"txt"},"transform":[{"filter":"datum.g == 'Lc'"}],
  "mark":{"type":"text","align":"left","baseline":"middle","fontSize":21},
  "encoding":{"text":{"field":"label"},"color":{"field":"series","type":"nominal","scale":{"domain":["TC","IR","LPx4"],"range":["#1a1a1a","#2e3192","#ed1c24"]},"legend":null}}},
 {"data":{"name":"txt"},"transform":[{"filter":"datum.g == 'R'"}],
  "mark":{"type":"text","align":"right","baseline":"middle","fontSize":21,"color":"#231f20"},
  "encoding":{"text":{"field":"label"}}},
 {"data":{"name":"txt"},"transform":[{"filter":"datum.g == 'R20'"}],
  "mark":{"type":"text","align":"right","baseline":"middle","fontSize":20,"color":"#231f20"},
  "encoding":{"text":{"field":"label"}}},
 {"data":{"name":"txt"},"transform":[{"filter":"datum.g == 'S'"}],
  "mark":{"type":"text","align":"center","baseline":"middle","fontSize":10,"color":"#231f20"},
  "encoding":{"text":{"field":"label"}}},
 {"data":{"name":"txt"},"transform":[{"filter":"datum.g == 'M'"}],
  "mark":{"type":"text","align":"right","baseline":"middle","fontSize":18,"color":"#231f20"},
  "encoding":{"text":{"field":"label"}}},
 {"data":{"name":"txt"},"transform":[{"filter":"datum.g == 'I'"}],
  "mark":{"type":"text","align":"left","baseline":"middle","fontSize":16,"font":"Liberation Serif","fontStyle":"italic","color":"#231f20"},
  "encoding":{"text":{"field":"label"}}},
 {"data":{"name":"txt"},"transform":[{"filter":"datum.g == 'sub'"}],
  "mark":{"type":"text","align":"left","baseline":"middle","fontSize":15,"color":"#231f20"},
  "encoding":{"text":{"field":"label"}}},
 {"data":{"name":"txt"},"transform":[{"filter":"datum.g == 'V'"}],
  "mark":{"type":"text","align":"center","baseline":"middle","fontSize":10,"angle":270,"color":"#333"},
  "encoding":{"text":{"field":"label"}}}
]
}
